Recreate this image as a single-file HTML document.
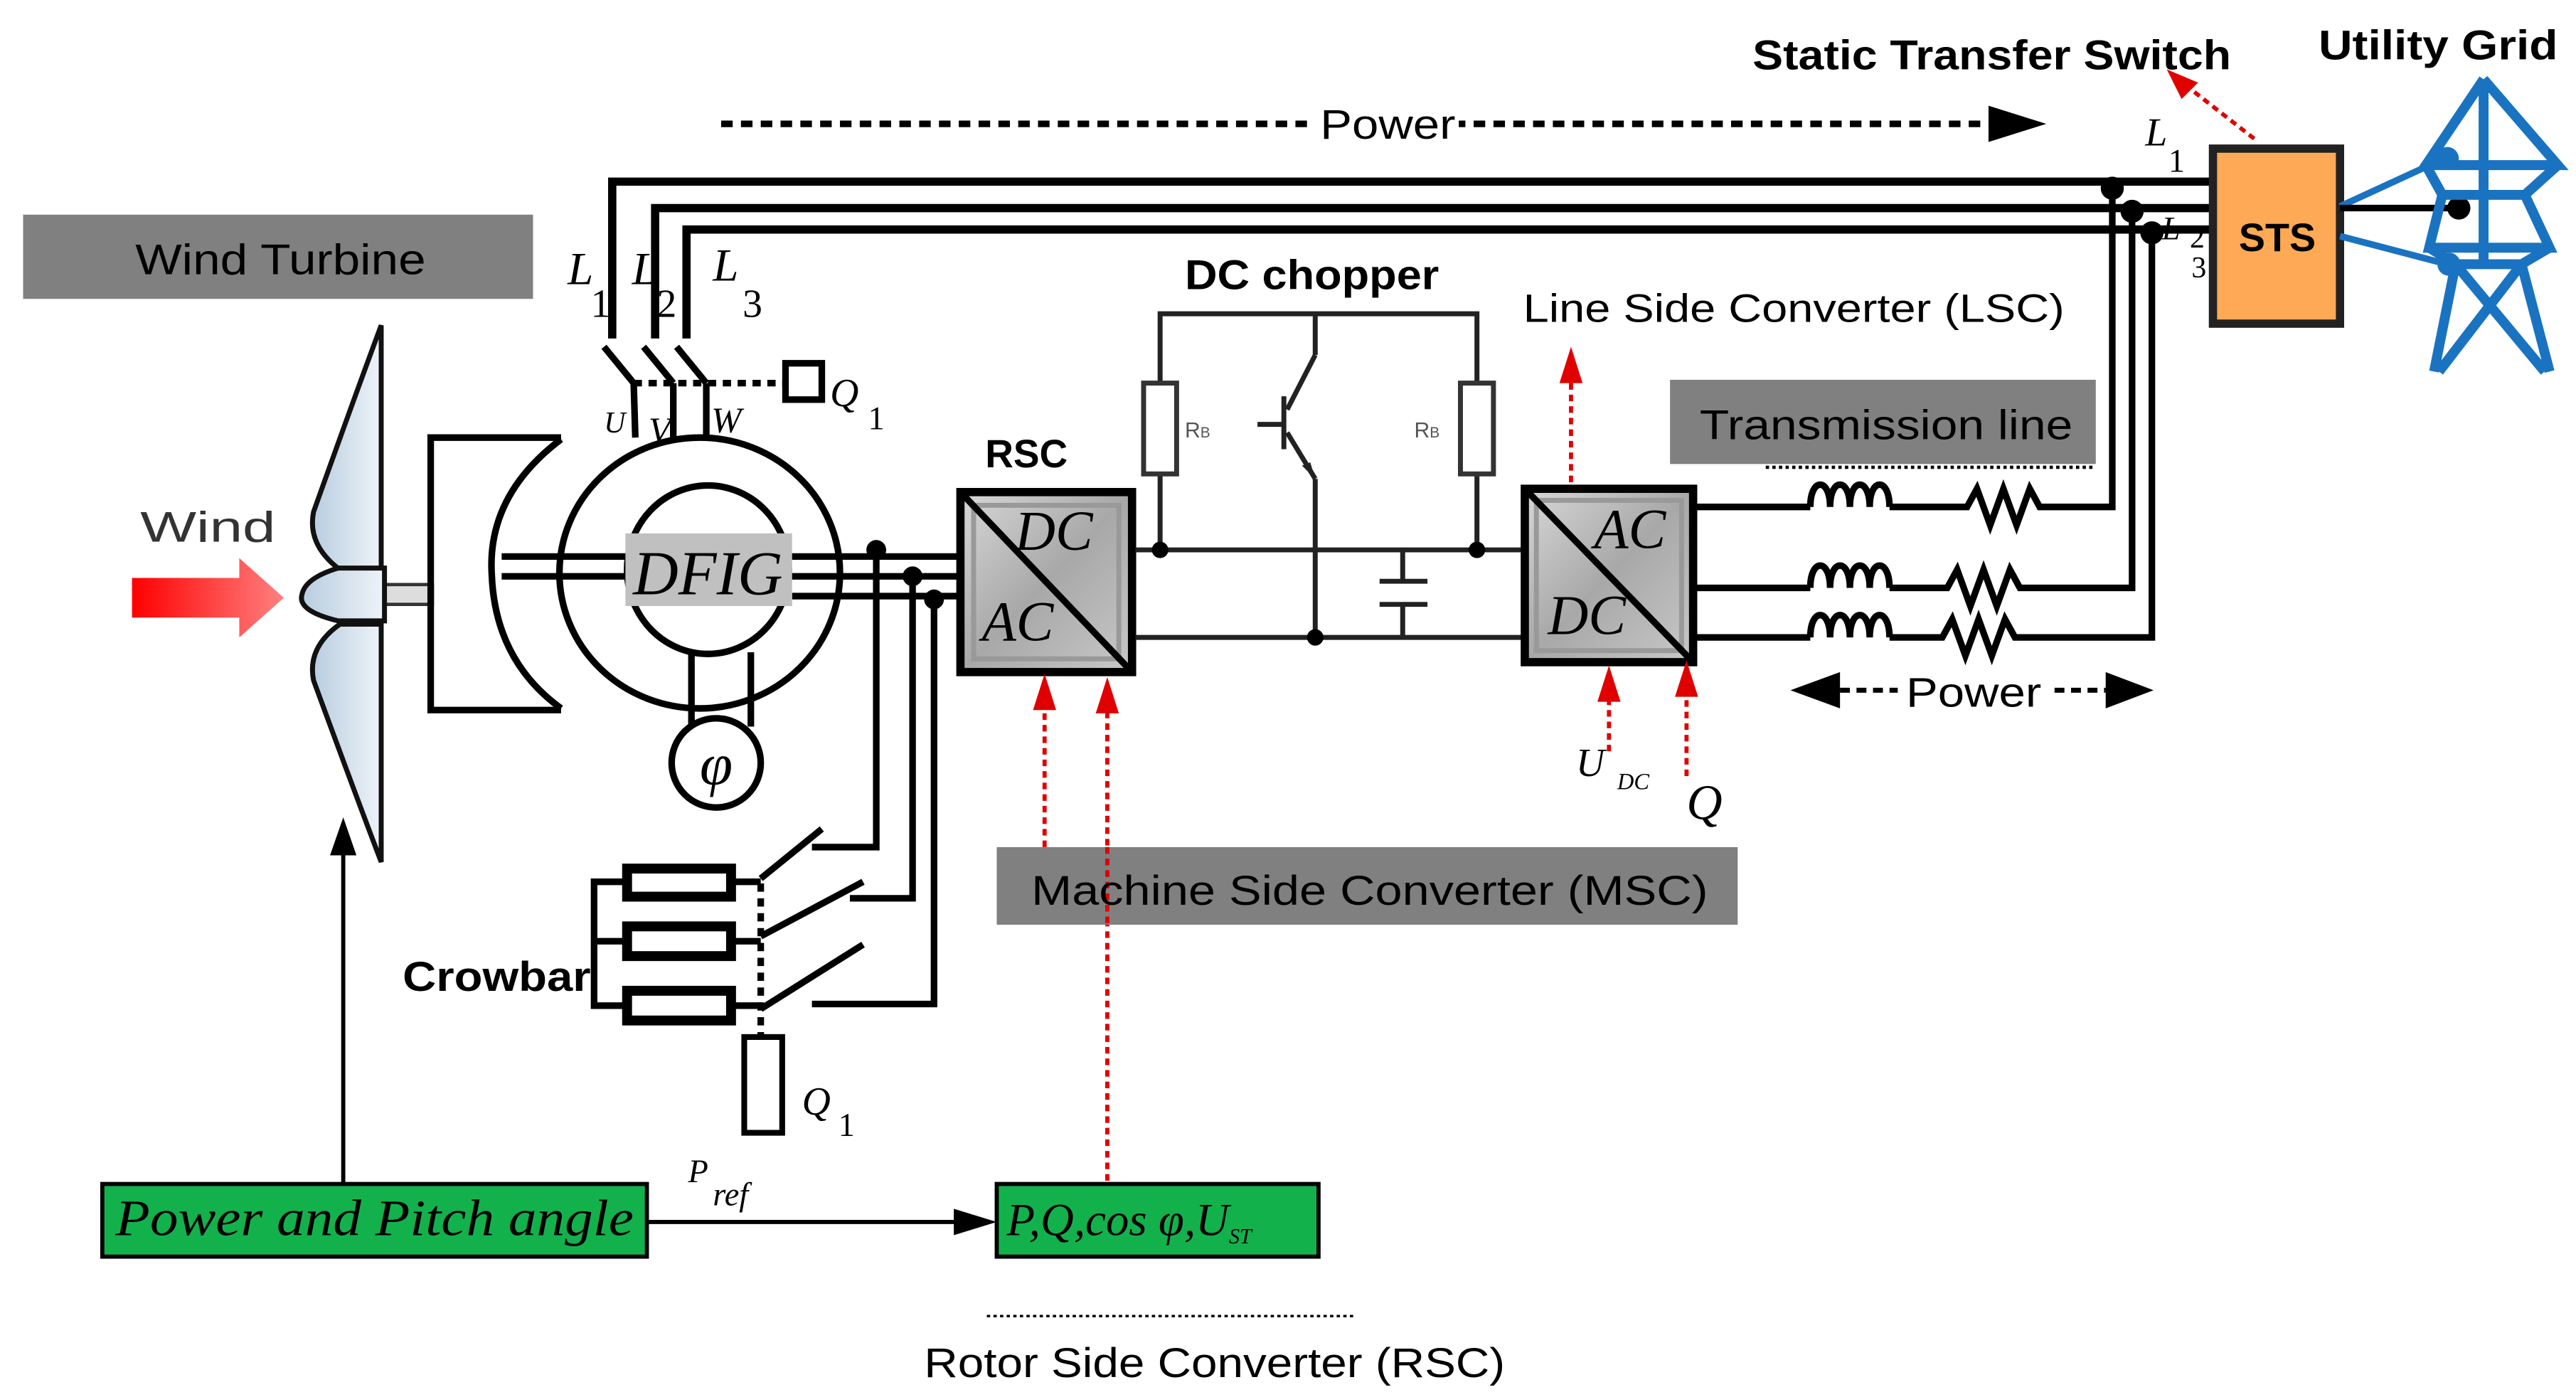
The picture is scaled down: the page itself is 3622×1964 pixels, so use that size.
<!DOCTYPE html>
<html><head><meta charset="utf-8">
<style>
html,body{margin:0;padding:0;background:#fff;}
svg{display:block;}
.s{font-family:"Liberation Sans",sans-serif;}
.i{font-family:"Liberation Serif",serif;font-style:italic;}
.n{font-family:"Liberation Serif",serif;font-style:normal;}
</style></head><body>
<svg width="3622" height="1964" viewBox="0 0 1561 846" preserveAspectRatio="none" xmlns="http://www.w3.org/2000/svg">
<defs>
<linearGradient id="bg" x1="0" y1="0" x2="1" y2="1">
<stop offset="0" stop-color="#d8d8d8"/><stop offset="0.5" stop-color="#a8a8a8"/><stop offset="1" stop-color="#c8c8c8"/>
</linearGradient>
<linearGradient id="bl" x1="0" y1="0" x2="1" y2="0">
<stop offset="0" stop-color="#b8cde0"/><stop offset="1" stop-color="#eef3f8"/>
</linearGradient>
<linearGradient id="rd" x1="0" y1="0" x2="1" y2="0">
<stop offset="0" stop-color="#ff0000"/><stop offset="1" stop-color="#ff8080"/>
</linearGradient>
</defs>

<rect x="14" y="130" width="309" height="51" fill="#808080"/>
<text x="82" y="166" class="s" font-size="26" textLength="176" lengthAdjust="spacingAndGlyphs" fill="#000">Wind Turbine</text>

<line x1="437" y1="75" x2="1212" y2="75" stroke="#000" stroke-width="4" stroke-dasharray="7,5"/>
<path d="M1205,64 L1240,75 L1205,86z" fill="#000"/>
<rect x="796" y="60" width="88" height="30" fill="#fff"/>
<text x="800" y="84" class="s" font-size="25" textLength="82" lengthAdjust="spacingAndGlyphs">Power</text>

<text x="1062" y="42" class="s" font-size="25" font-weight="bold" textLength="290" lengthAdjust="spacingAndGlyphs">Static Transfer Switch</text>
<text x="1405" y="36" class="s" font-size="25" font-weight="bold" textLength="145" lengthAdjust="spacingAndGlyphs">Utility Grid</text>
<line x1="1366" y1="84" x2="1325" y2="52" stroke="#e00000" stroke-width="2.5" stroke-dasharray="4,3"/>
<path d="M1313,42 L1332,50 L1322,60z" fill="#e00000"/>

<g stroke="#000" stroke-width="5" fill="none">
<polyline points="371,205 371,110 1340,110"/>
<polyline points="397,205 397,126 1340,126"/>
<polyline points="416,205 416,139 1340,139"/>
</g>
<text x="344" y="172" class="i" font-size="28">L</text><text x="358" y="192" class="n" font-size="24">1</text>
<text x="383" y="172" class="i" font-size="28">L</text><text x="398" y="192" class="n" font-size="24">2</text>
<text x="432" y="170" class="i" font-size="28">L</text><text x="450" y="192" class="n" font-size="24">3</text>
<g stroke="#000" stroke-width="4">
<line x1="366" y1="210" x2="384" y2="232"/><line x1="384" y1="232" x2="385" y2="265"/>
<line x1="390" y1="210" x2="408" y2="232"/><line x1="408" y1="232" x2="408" y2="265"/>
<line x1="410" y1="210" x2="428" y2="232"/><line x1="428" y1="232" x2="428" y2="265"/>
<line x1="384" y1="232" x2="475" y2="232" stroke-dasharray="5,4"/>
</g>
<rect x="476" y="220" width="22" height="22" fill="none" stroke="#000" stroke-width="4"/>
<text x="503" y="246" class="i" font-size="24">Q</text><text x="526" y="260" class="n" font-size="20">1</text>
<text x="366" y="262" class="i" font-size="18">U</text>
<text x="393" y="268" class="i" font-size="22">V</text>
<text x="431" y="262" class="i" font-size="22">W</text>

<text x="85" y="328" class="s" font-size="26" fill="#333" textLength="82" lengthAdjust="spacingAndGlyphs">Wind</text>
<path d="M80,350 L145,350 L145,338 L172,362 L145,386 L145,374 L80,374z" fill="url(#rd)"/>
<rect x="230" y="354" width="32" height="12" fill="#ddd" stroke="#333" stroke-width="2"/>
<path d="M231,197 L231,345 L206,345 Q186,330 190,310 Q215,240 231,197z" fill="url(#bl)" stroke="#111" stroke-width="3"/>
<path d="M231,522 L231,378 L206,378 Q186,392 190,412 Q215,480 231,522z" fill="url(#bl)" stroke="#111" stroke-width="3"/>
<path d="M233,344 L233,376 L205,376 Q180,370 183,360 Q185,350 205,344z" fill="url(#bl)" stroke="#111" stroke-width="3"/>

<g stroke="#000" stroke-width="4" fill="none">
<polyline points="340,265 261,265 261,430 340,430"/>
<path d="M340,266 Q295,300 298,348 Q300,400 340,429"/>
</g>
<g stroke="#000" stroke-width="4">
<line x1="304" y1="337" x2="580" y2="337"/>
<line x1="304" y1="349" x2="580" y2="349"/>
<line x1="480" y1="361" x2="580" y2="361"/>
</g>
<ellipse cx="424" cy="347" rx="85" ry="82" fill="none" stroke="#000" stroke-width="4"/>
<ellipse cx="429" cy="345" rx="49" ry="51" fill="none" stroke="#000" stroke-width="4"/>
<rect x="379" y="323" width="101" height="44" fill="#c0c0c0"/>
<text x="429" y="360" class="i" font-size="38" text-anchor="middle">DFIG</text>
<g stroke="#000" stroke-width="4"><line x1="419" y1="395" x2="419" y2="440"/><line x1="455" y1="395" x2="455" y2="440"/></g>
<circle cx="434" cy="462" r="27" fill="#fff" stroke="#000" stroke-width="4"/>
<text x="434" y="475" class="i" font-size="36" text-anchor="middle">φ</text>
<circle cx="531" cy="333" r="6"/><circle cx="553" cy="349" r="6"/><circle cx="566" cy="363" r="6"/>

<g stroke="#000" stroke-width="4" fill="none">
<polyline points="531,333 531,513 492,513"/>
<polyline points="553,349 553,544 515,544"/>
<polyline points="566,363 566,608 492,608"/>
<line x1="461" y1="532" x2="498" y2="502"/>
<line x1="461" y1="567" x2="523" y2="534"/>
<line x1="461" y1="611" x2="523" y2="572"/>
<line x1="461" y1="535" x2="461" y2="628" stroke-dasharray="5,4"/>
<polyline points="378,534 360,534 360,609 378,609"/>
<line x1="360" y1="570" x2="378" y2="570"/>
<line x1="444" y1="534" x2="461" y2="534"/><line x1="444" y1="570" x2="461" y2="570"/><line x1="444" y1="609" x2="461" y2="609"/>
</g>
<g fill="#fff" stroke="#000" stroke-width="6">
<rect x="380" y="526" width="63" height="17"/>
<rect x="380" y="561" width="63" height="18"/>
<rect x="380" y="600" width="63" height="18"/>
</g>
<rect x="451" y="628" width="23" height="58" fill="#fff" stroke="#000" stroke-width="3.5"/>
<text x="486" y="675" class="i" font-size="24">Q</text><text x="508" y="688" class="n" font-size="20">1</text>
<text x="244" y="600" class="s" font-size="25" font-weight="bold" textLength="114" lengthAdjust="spacingAndGlyphs">Crowbar</text>

<text x="597" y="283" class="s" font-size="24" font-weight="bold" textLength="50" lengthAdjust="spacingAndGlyphs">RSC</text>
<rect x="582" y="298" width="104" height="109" fill="url(#bg)" stroke="#000" stroke-width="5"/>
<rect x="590" y="306" width="88" height="93" fill="none" stroke="#999" stroke-width="3"/>
<line x1="582" y1="298" x2="686" y2="407" stroke="#000" stroke-width="4"/>
<text x="615" y="333" class="i" font-size="34">DC</text>
<text x="595" y="388" class="i" font-size="34">AC</text>

<g stroke="#222" stroke-width="3" fill="none">
<line x1="688" y1="333" x2="922" y2="333"/>
<line x1="688" y1="386" x2="922" y2="386"/>
<polyline points="703,333 703,190 895,190 895,333"/>
<line x1="797" y1="190" x2="797" y2="215"/>
<line x1="797" y1="215" x2="780" y2="248"/>
<line x1="780" y1="262" x2="797" y2="290"/>
<line x1="797" y1="290" x2="797" y2="386"/>
<line x1="778" y1="240" x2="778" y2="272"/>
<line x1="762" y1="257" x2="778" y2="257"/>
<line x1="850" y1="333" x2="850" y2="352"/><line x1="850" y1="366" x2="850" y2="386"/>
<line x1="836" y1="352" x2="865" y2="352"/><line x1="836" y1="366" x2="865" y2="366"/>
</g>
<path d="M797,290 L789,282 L794,280z" fill="#222"/>
<rect x="693" y="232" width="20" height="55" fill="#fff" stroke="#333" stroke-width="3"/>
<rect x="885" y="232" width="20" height="55" fill="#fff" stroke="#333" stroke-width="3"/>
<text x="718" y="265" class="s" font-size="13" fill="#555">R<tspan font-size="9">B</tspan></text>
<text x="857" y="265" class="s" font-size="13" fill="#555">R<tspan font-size="9">B</tspan></text>
<circle cx="703" cy="333" r="5"/><circle cx="895" cy="333" r="5"/><circle cx="797" cy="386" r="5"/>
<text x="718" y="175" class="s" font-size="25" font-weight="bold" textLength="154" lengthAdjust="spacingAndGlyphs">DC chopper</text>

<text x="923" y="195" class="s" font-size="24" textLength="328" lengthAdjust="spacingAndGlyphs">Line Side Converter (LSC)</text>
<line x1="952" y1="292" x2="952" y2="228" stroke="#e00000" stroke-width="2.5" stroke-dasharray="4,3"/>
<path d="M945,232 L952,210 L959,232z" fill="#e00000"/>
<rect x="924" y="296" width="102" height="105" fill="url(#bg)" stroke="#000" stroke-width="5"/>
<rect x="931" y="303" width="88" height="91" fill="none" stroke="#999" stroke-width="3"/>
<line x1="924" y1="296" x2="1026" y2="401" stroke="#000" stroke-width="4"/>
<text x="966" y="332" class="i" font-size="34">AC</text>
<text x="938" y="384" class="i" font-size="34">DC</text>
<g stroke="#e00000" stroke-width="2.5" stroke-dasharray="4,3">
<line x1="975" y1="455" x2="975" y2="420"/><line x1="1022" y1="470" x2="1022" y2="420"/>
<line x1="633" y1="513" x2="633" y2="425"/><line x1="671" y1="715" x2="671" y2="425"/>
</g>
<path d="M968,425 L975,403 L982,425z M1015,422 L1022,400 L1029,422z M626,430 L633,408 L640,430z M664,432 L671,410 L678,432z" fill="#e00000"/>
<text x="955" y="470" class="i" font-size="24">U</text><text x="980" y="478" class="i" font-size="14">DC</text>
<text x="1022" y="496" class="i" font-size="30">Q</text>

<rect x="1012" y="230" width="258" height="51" fill="#808080"/>
<text x="1030" y="266" class="s" font-size="25" textLength="226" lengthAdjust="spacingAndGlyphs">Transmission line</text>
<line x1="1070" y1="283" x2="1270" y2="283" stroke="#000" stroke-width="2" stroke-dasharray="2,2"/>
<g stroke="#000" stroke-width="4" fill="none">
<polyline points="1026,307 1097,307"/>
<path d="M1097,307 c0,-18 12,-18 12,0 c0,-18 12,-18 12,0 c0,-18 12,-18 12,0 c0,-18 12,-18 12,0"/>
<polyline points="1145,307 1192,307 1198,296 1206,318 1214,296 1222,318 1230,296 1236,307 1280,307 1280,110"/>
<polyline points="1026,356 1097,356"/>
<path d="M1097,356 c0,-18 12,-18 12,0 c0,-18 12,-18 12,0 c0,-18 12,-18 12,0 c0,-18 12,-18 12,0"/>
<polyline points="1145,356 1180,356 1186,345 1194,367 1202,345 1210,367 1218,345 1224,356 1292,356 1292,126"/>
<polyline points="1026,386 1097,386"/>
<path d="M1097,386 c0,-18 12,-18 12,0 c0,-18 12,-18 12,0 c0,-18 12,-18 12,0 c0,-18 12,-18 12,0"/>
<polyline points="1145,386 1177,386 1183,375 1191,397 1199,375 1207,397 1215,375 1221,386 1304,386 1304,139"/>
</g>
<circle cx="1280" cy="114" r="7"/><circle cx="1292" cy="128" r="7"/><circle cx="1304" cy="141" r="7"/>
<text x="1300" y="88" class="i" font-size="24">L</text><text x="1314" y="104" class="n" font-size="20">1</text>
<text x="1310" y="145" class="i" font-size="20">L</text><text x="1327" y="150" class="n" font-size="18">2</text><text x="1328" y="168" class="n" font-size="18">3</text>

<path d="M1115,407 L1085,418 L1115,429z M1276,407 L1305,418 L1276,429z" fill="#000"/>
<line x1="1115" y1="418" x2="1276" y2="418" stroke="#000" stroke-width="3" stroke-dasharray="6,4"/>
<rect x="1150" y="403" width="92" height="30" fill="#fff"/>
<text x="1155" y="428" class="s" font-size="25" textLength="82" lengthAdjust="spacingAndGlyphs">Power</text>

<rect x="1341" y="90" width="77" height="106" fill="#fda956" stroke="#222" stroke-width="5"/>
<text x="1380" y="152" class="s" font-size="24" font-weight="bold" text-anchor="middle">STS</text>
<g stroke="#1a73c0" stroke-width="4"><line x1="1418" y1="125" x2="1481" y2="96"/><line x1="1418" y1="143" x2="1483" y2="160"/></g>
<line x1="1418" y1="126" x2="1490" y2="126" stroke="#000" stroke-width="4"/>
<circle cx="1490" cy="126" r="7"/>
<circle cx="1483" cy="96" r="7" fill="#1a73c0"/><circle cx="1484" cy="160" r="7" fill="#1a73c0"/>
<g stroke="#1a73c0" stroke-width="6" fill="none">
<polyline points="1505,48 1470,100 1550,100 1505,48"/>
<polyline points="1470,100 1480,118 1530,118 1550,100"/>
<polyline points="1480,118 1472,150 1545,150 1530,118"/>
<polyline points="1472,150 1488,160 1528,160 1545,150"/>
<polyline points="1488,160 1475,225"/><polyline points="1528,160 1545,225"/>
<polyline points="1488,160 1542,225"/><polyline points="1528,160 1478,225"/>
<line x1="1505" y1="48" x2="1505" y2="160"/>
</g>

<rect x="604" y="513" width="449" height="47" fill="#808080"/>
<line x1="671" y1="513" x2="671" y2="560" stroke="#e00000" stroke-width="2.5" stroke-dasharray="4,3"/>
<text x="625" y="548" class="s" font-size="25" textLength="410" lengthAdjust="spacingAndGlyphs">Machine Side Converter  (MSC)</text>

<line x1="208" y1="716" x2="208" y2="515" stroke="#000" stroke-width="2.5"/>
<path d="M200,518 L208,495 L216,518z" fill="#000"/>
<rect x="62" y="717" width="330" height="44" fill="#13b14c" stroke="#000" stroke-width="2.5"/>
<text x="70" y="748" class="i" font-size="31" textLength="314" lengthAdjust="spacingAndGlyphs">Power and Pitch angle</text>
<line x1="392" y1="740" x2="580" y2="740" stroke="#000" stroke-width="2.5"/>
<path d="M578,732 L604,740 L578,748z" fill="#000"/>
<text x="417" y="716" class="i" font-size="20">P</text><text x="432" y="730" class="i" font-size="20">ref</text>
<rect x="604" y="717" width="195" height="44" fill="#13b14c" stroke="#000" stroke-width="2.5"/>
<text x="610" y="748" class="i" font-size="28">P,Q,cos φ,U<tspan font-size="13" dy="5">ST</tspan></text>
<line x1="598" y1="797" x2="820" y2="797" stroke="#000" stroke-width="1.5" stroke-dasharray="2,2"/>
<text x="560" y="834" class="s" font-size="25" textLength="352" lengthAdjust="spacingAndGlyphs">Rotor Side Converter (RSC)</text>
</svg>
</body></html>
